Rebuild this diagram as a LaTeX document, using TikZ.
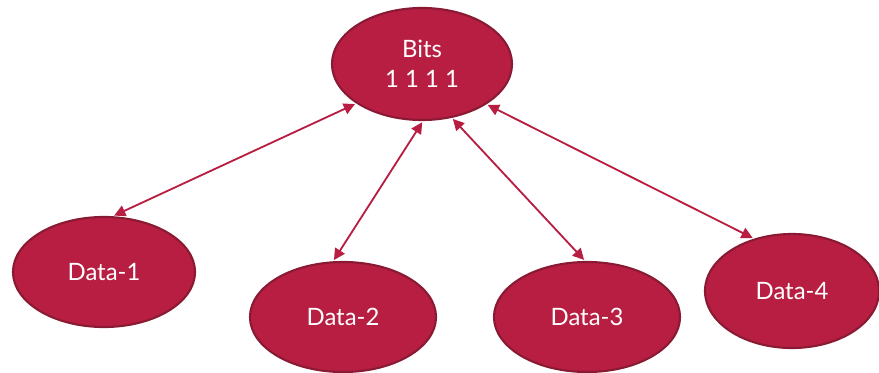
\documentclass[tikz,border=0pt]{standalone}
\usepackage{fontspec}
\setmainfont{Lato}
\usepackage{xcolor}
\usetikzlibrary{shapes.geometric,arrows.meta}
\definecolor{wine}{HTML}{B71E42}
\definecolor{winedark}{HTML}{8A1A33}

\begin{document}
\begin{tikzpicture}[<->,>={Triangle[length=8pt,width=8pt]},line width=1.3pt,x=0.025cm,y=-0.025cm]
  \tikzstyle{blob}=[ellipse,draw=winedark,fill=wine,line width=1.5pt,text=white,
    font=\fontsize{17}{21}\selectfont,align=center,minimum width=4.55cm,minimum height=2.75cm]
  \useasboundingbox (0,0) rectangle (879,373);

  \node[blob,minimum width=4.5cm,minimum height=2.8cm] (bits) at (422,64) {Bits\\1 1 1 1};
  \node[blob] (d1) at (104,272) {Data-1};
  \node[blob,minimum width=4.65cm] (d2) at (343,317) {Data-2};
  \node[blob,minimum width=4.65cm] (d3) at (587,317) {Data-3};
  \node[blob,minimum width=4.35cm,minimum height=2.85cm] (d4) at (792,291) {Data-4};

  \draw[wine,shorten <=1pt,shorten >=1pt] (bits.211) -- (d1.81);
  \draw[wine,shorten <=1pt,shorten >=1pt] (bits.271) -- (d2.100);
  \draw[wine,shorten <=1pt,shorten >=1pt] (bits.299) -- (d3.92);
  \draw[wine,shorten <=1pt,shorten >=1pt] (bits.328) -- (d4.126);

\end{tikzpicture}
\end{document}
